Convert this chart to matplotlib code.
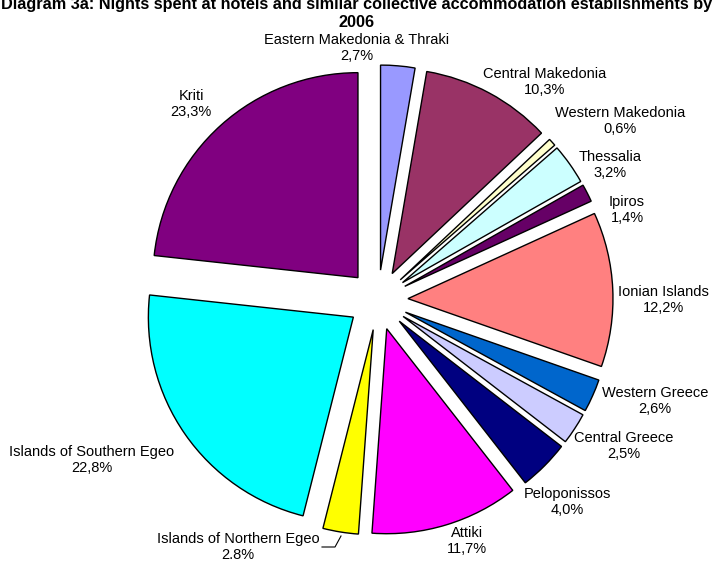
import matplotlib
matplotlib.use("Agg")
import matplotlib.pyplot as plt

plt.rcParams['font.family'] = ['Liberation Sans', 'DejaVu Sans']

regions = ["Eastern Makedonia & Thraki", "Central Makedonia", "Western Makedonia",
           "Thessalia", "Ipiros", "Ionian Islands", "Western Greece", "Central Greece",
           "Peloponissos", "Attiki", "Islands of Northern Egeo",
           "Islands of Southern Egeo", "Kriti"]
shares = [2.7, 10.3, 0.6, 3.2, 1.4, 12.2, 2.6, 2.5, 4.0, 11.7, 2.8, 22.8, 23.3]
share_labels = ["2,7%", "10,3%", "0,6%", "3,2%", "1,4%", "12,2%", "2,6%", "2,5%",
                "4,0%", "11,7%", "2.8%", "22,8%", "23,3%"]
colors = ["#9999FF", "#993366", "#FFFFCC", "#CCFFFF", "#660066", "#FF8080",
          "#0066CC", "#CCCCFF", "#000080", "#FF00FF", "#FFFF00", "#00FFFF", "#800080"]

# label centre positions in pixels (x, y from top) - layout only
label_pos = [(357, 48), (545, 82), (620, 121), (610, 165), (627, 210), (663, 300),
             (655, 401), (624, 446), (567, 502), (467, 541), (238, 547), (92, 460),
             (191, 104)]

W, H = 716, 561
fig = plt.figure(figsize=(W / 100, H / 100), dpi=100)
ax = fig.add_axes([0, 0, 1, 1])

R = 205
cx, cy = 378, H - 300
ax.pie(shares, colors=colors, startangle=90, counterclock=False,
       explode=[30] * len(shares), radius=R, center=(cx, cy),
       wedgeprops=dict(edgecolor='black', linewidth=1.0), frame=False)
ax.set_xlim(0, W)
ax.set_ylim(0, H)
ax.set_aspect('equal')
ax.axis('off')

for name, lab, (x, y) in zip(regions, share_labels, label_pos):
    ax.text(x, H - y, f"{name}\n{lab}", ha='center', va='center', fontsize=10.5,
            linespacing=1.2)

# leader line for Islands of Northern Egeo
ax.plot([322, 335, 341], [H - 547, H - 547, H - 536], color='black', lw=0.8)

fig.text(357 / W, 1 - 9 / H, "Diagram 3a: Nights spent at hotels and similar collective accommodation establishments by",
         ha='center', va='baseline', fontsize=11.7, fontweight='bold')
fig.text(357 / W, 1 - 27 / H, "2006", ha='center', va='baseline', fontsize=11.7, fontweight='bold')

fig.savefig("out.png", dpi=100)
